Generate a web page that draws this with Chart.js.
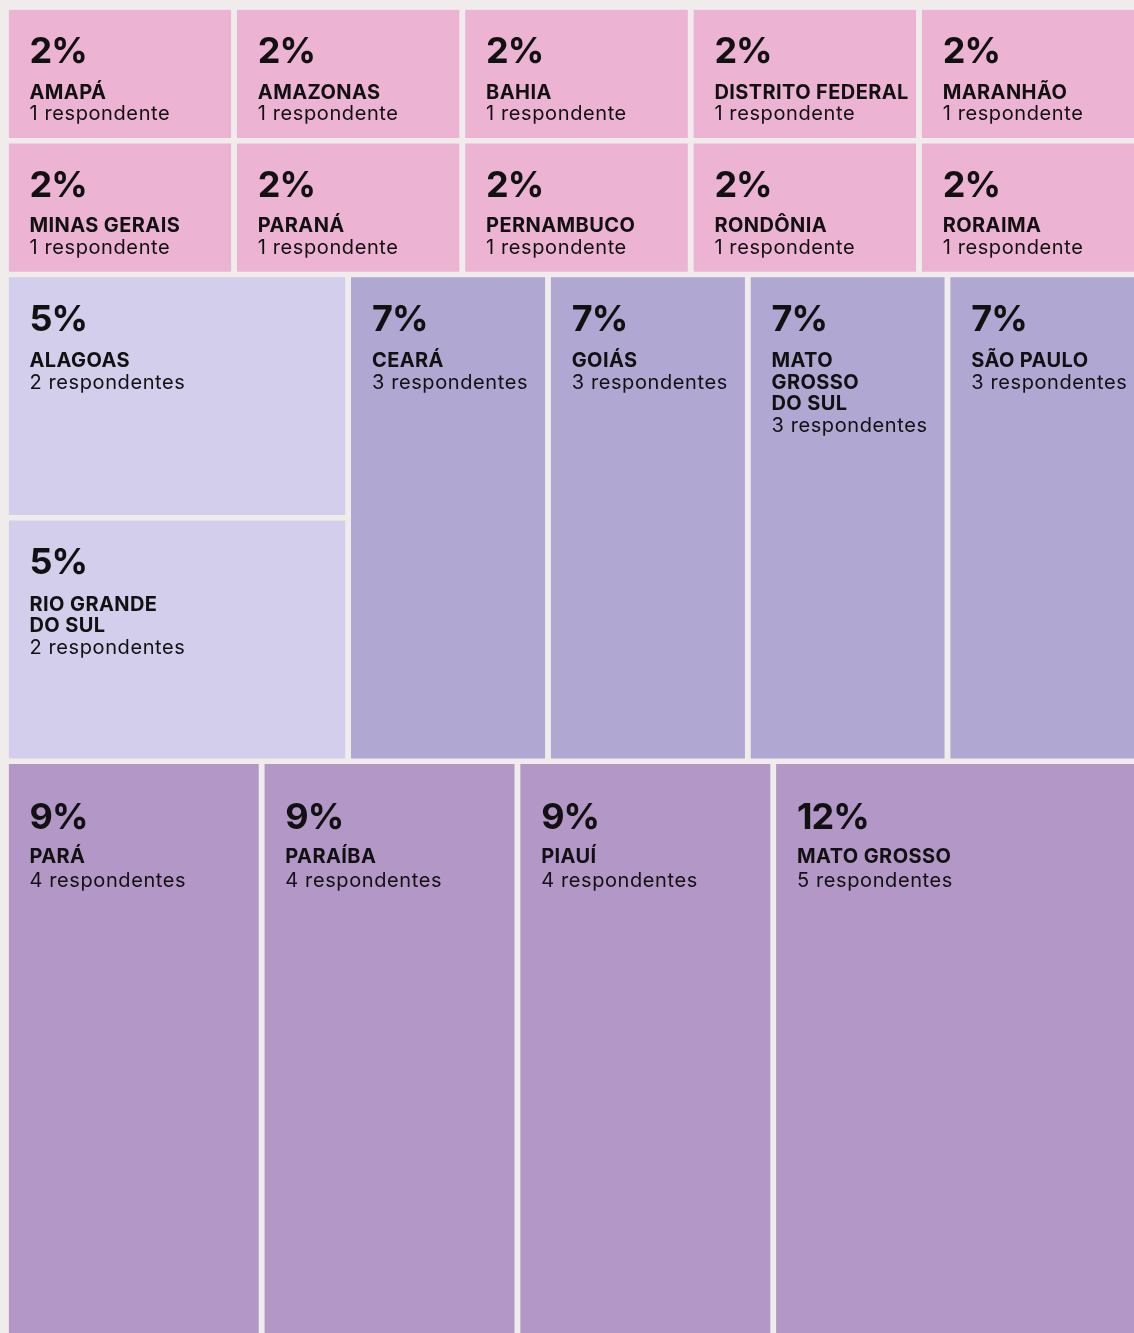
<!DOCTYPE html>
<html>
<head>
<meta charset="utf-8">
<script src="https://cdn.jsdelivr.net/npm/chart.js@4.4.1/dist/chart.umd.min.js"></script>
<style>
  html, body { margin: 0; padding: 0; background: #EFECEB; overflow: hidden; width: 1134px; height: 1333px; }
  #wrap { position: absolute; left: 0; top: 0; }
</style>
</head>
<body>
<div id="wrap"><canvas id="c" width="1150" height="1345"></canvas></div>
<script>
// ---- data ----
const states = ['AMAPÁ','AMAZONAS','BAHIA','DISTRITO FEDERAL','MARANHÃO',
                'MINAS GERAIS','PARANÁ','PERNAMBUCO','RONDÔNIA','RORAIMA',
                'ALAGOAS','RIO GRANDE\nDO SUL',
                'CEARÁ','GOIÁS','MATO\nGROSSO\nDO SUL','SÃO PAULO',
                'PARÁ','PARAÍBA','PIAUÍ','MATO GROSSO'];
const respondents = [1,1,1,1,1, 1,1,1,1,1, 2,2, 3,3,3,3, 4,4,4, 5];
const groupOf =     [0,0,0,0,0, 0,0,0,0,0, 1,1, 2,2,2,2, 3,3,3, 4];

// ---- style / layout ----
const groupColors = ['#EDB3D3', '#D3CEEB', '#B1A7D3', '#B397C7', '#B397C7'];
const layoutRows = [
  { share: 0.2005, groups: [{ g: 0, share: 1, cols: 5 }], labelTop: 53.5, nameGap: 35.5, lineH: 21.7 },
  { share: 0.3644, groups: [{ g: 1, share: 0.300, cols: 1 }, { g: 2, share: 0.700, cols: 4 }], labelTop: 53.5, nameGap: 36.5, lineH: 21.5 },
  { share: 0.4351, groups: [{ g: 3, share: 0.6724, cols: 3 }, { g: 4, share: 0.3276, cols: 1 }], labelTop: 65.5, nameGap: 34, lineH: 23.5 }
];
const CANVAS_W = 1150, CANVAS_H = 1345, PAD_L = 8.5, PAD_T = 9.5, GAP = 5.5, PAD_X = 21;
const total = respondents.reduce((a, b) => a + b, 0);

// ---- treemap layout in unit space (x: 0..1, y: 0..1) ----
const gx = GAP / (CANVAS_W - PAD_L), gy = GAP / (CANVAS_H - PAD_T);
const cells = [];
let yCur = 0;
layoutRows.forEach(row => {
  let xCur = 0;
  row.groups.forEach(grp => {
    const items = respondents.map((v, i) => i).filter(i => groupOf[i] === grp.g);
    const chunks = [];
    for (let k = 0; k < items.length; k += grp.cols) chunks.push(items.slice(k, k + grp.cols));
    const gSum = items.reduce((a, i) => a + respondents[i], 0);
    let yy = yCur;
    chunks.forEach(ch => {
      const cSum = ch.reduce((a, i) => a + respondents[i], 0);
      const h = row.share * cSum / gSum;
      let xx = xCur;
      ch.forEach(i => {
        const w = grp.share * respondents[i] / cSum;
        cells.push({ i, x0: xx, x1: xx + w - gx, y0: yy, y1: yy + h - gy, row });
        xx += w;
      });
      yy += h;
    });
    xCur += grp.share;
  });
  yCur += row.share;
});

const datasets = cells.map(c => ({
  label: states[c.i],
  data: [{ x: c.x0, y: c.y0 }, { x: c.x1, y: c.y0 }],
  fill: { value: c.y1 },
  backgroundColor: groupColors[groupOf[c.i]],
  borderColor: 'transparent',
  borderWidth: 0,
  pointRadius: 0,
  pointHoverRadius: 0,
  tension: 0
}));

const labelPlugin = {
  id: 'cellLabels',
  afterDatasetsDraw(chart) {
    const ctx = chart.ctx, xs = chart.scales.x, ys = chart.scales.y;
    ctx.save();
    ctx.fillStyle = '#111111';
    ctx.textAlign = 'left';
    ctx.textBaseline = 'alphabetic';
    cells.forEach(c => {
      const v = respondents[c.i];
      const left = xs.getPixelForValue(c.x0) + PAD_X;
      const top = ys.getPixelForValue(c.y0);
      let y = top + c.row.labelTop;
      ctx.font = '700 36px Inter';
      ctx.letterSpacing = '-1px';
      ctx.fillText(Math.round(v / total * 100) + '%', left, y);
      y += c.row.nameGap;
      ctx.font = '700 20px Inter';
      ctx.letterSpacing = '0.4px';
      const lines = states[c.i].split('\n');
      lines.forEach(ln => {
        ctx.fillText(ln, left, y);
        y += c.row.lineH;
      });
      ctx.font = '400 20px Inter';
      ctx.letterSpacing = '0.6px';
      ctx.fillText(v + (v === 1 ? ' respondente' : ' respondentes'), left, y);
    });
    ctx.restore();
  }
};

function draw() {
  new Chart(document.getElementById('c'), {
    type: 'line',
    data: { datasets },
    options: {
      responsive: false,
      animation: false,
      events: [],
      layout: { padding: { left: PAD_L, top: PAD_T, right: 0, bottom: 0 } },
      scales: {
        x: { type: 'linear', min: 0, max: 1, display: false },
        y: { type: 'linear', min: 0, max: 1, reverse: true, display: false }
      },
      plugins: { legend: { display: false }, tooltip: { enabled: false } }
    },
    plugins: [labelPlugin]
  });
}
Promise.all([
  document.fonts.load('700 36px Inter'),
  document.fonts.load('700 20px Inter'),
  document.fonts.load('400 20px Inter')
]).then(draw, draw);
</script>
</body>
</html>
